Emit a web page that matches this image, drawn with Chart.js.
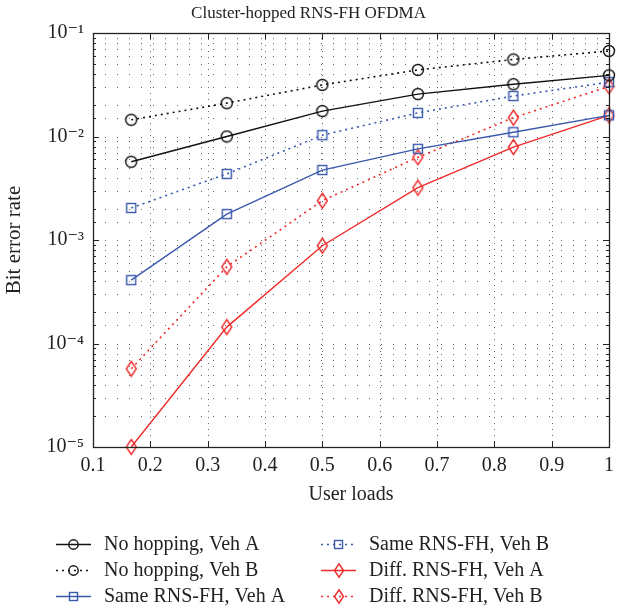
<!DOCTYPE html>
<html><head><meta charset="utf-8">
<script src="https://cdn.jsdelivr.net/npm/chart.js@4.4.1/dist/chart.umd.min.js"></script>
<style>html,body{margin:0;padding:0;background:#fff}#wrap{width:621px;height:611px}</style>
</head><body><div id="wrap"><canvas id="c" width="621" height="611"></canvas></div>
<script>
// ---- data ----
const chartTitle = 'Cluster-hopped RNS-FH OFDMA';
const xAxisTitle = 'User loads';
const yAxisTitle = 'Bit error rate';
const userLoads = [0.1667, 0.3333, 0.5, 0.6667, 0.8333, 1.0];
const noHoppingVehA = [5.7e-3, 1.0e-2, 1.76e-2, 2.57e-2, 3.2e-2, 3.9e-2];
const noHoppingVehB = [1.45e-2, 2.1e-2, 3.15e-2, 4.4e-2, 5.55e-2, 6.7e-2];
const sameRnsVehA = [4.1e-4, 1.78e-3, 4.74e-3, 7.6e-3, 1.1e-2, 1.6e-2];
const sameRnsVehB = [2.04e-3, 4.35e-3, 1.03e-2, 1.69e-2, 2.46e-2, 3.35e-2];
const diffRnsVehA = [1.0e-5, 1.44e-4, 8.8e-4, 3.2e-3, 7.9e-3, 1.6e-2];
const diffRnsVehB = [5.7e-5, 5.5e-4, 2.4e-3, 6.3e-3, 1.52e-2, 3.05e-2];
const seriesNames = ['No hopping, Veh A', 'No hopping, Veh B', 'Same RNS-FH, Veh A',
                     'Same RNS-FH, Veh B', 'Diff. RNS-FH, Veh A', 'Diff. RNS-FH, Veh B'];
const xTickLabels = ['0.1','0.2','0.3','0.4','0.5','0.6','0.7','0.8','0.9','1'];
const yTickLabels = ['10\u207B\u2075','10\u207B\u2074','10\u207B\u00B3','10\u207B\u00B2','10\u207B\u00B9'];
const yExponents = [-5, -4, -3, -2, -1];

// ---- styles ----
const FONT = "'Liberation Serif', 'DejaVu Serif', serif";
const BLACK = '#111111', BLUE = '#3a59ad', RED = '#ee2a2a';

function markerCanvas(kind, color, scale) {
  const c = document.createElement('canvas');
  const g = c.getContext('2d');
  if (kind === 'circle') {
    const r = 5.5 * scale;
    c.width = Math.ceil(2 * r + 3); c.height = c.width;
    g.strokeStyle = color; g.lineWidth = 1.4;
    g.beginPath(); g.arc(c.width / 2, c.height / 2, r, 0, Math.PI * 2); g.stroke();
  } else if (kind === 'square') {
    const s = Math.round(9 * scale);
    c.width = s + 3; c.height = s + 3;
    g.strokeStyle = color; g.lineWidth = 1.4;
    g.strokeRect(1.5, 1.5, s, s);
  } else {
    const w = 10 * scale, h = 15 * scale;
    c.width = Math.ceil(w + 3); c.height = Math.ceil(h + 3);
    const cx = c.width / 2, cy = c.height / 2;
    g.strokeStyle = color; g.lineWidth = 1.4;
    g.beginPath();
    g.moveTo(cx, cy - h / 2); g.lineTo(cx + w / 2, cy); g.lineTo(cx, cy + h / 2); g.lineTo(cx - w / 2, cy);
    g.closePath(); g.stroke();
  }
  return c;
}

const DOTTED = [2, 4];
function makeSet(label, values, color, kind, dotted) {
  return {
    label: label,
    data: userLoads.map((x, i) => ({ x: x, y: values[i] })),
    borderColor: color,
    backgroundColor: color,
    borderWidth: dotted ? 1.6 : 1.4,
    borderDash: dotted ? DOTTED : [],
    pointStyle: markerCanvas(kind, color, 1),
    legendMarker: markerCanvas(kind, color, kind === 'diamond' ? 0.9 : 0.85),
    pointRadius: 7,
    pointHoverRadius: 7,
    tension: 0,
    fill: false,
    clip: false
  };
}

const datasets = [
  makeSet(seriesNames[0], noHoppingVehA, BLACK, 'circle', false),
  makeSet(seriesNames[1], noHoppingVehB, BLACK, 'circle', true),
  makeSet(seriesNames[2], sameRnsVehA, BLUE, 'square', false),
  makeSet(seriesNames[3], sameRnsVehB, BLUE, 'square', true),
  makeSet(seriesNames[4], diffRnsVehA, RED, 'diamond', false),
  makeSet(seriesNames[5], diffRnsVehB, RED, 'diamond', true)
];

function isDecade(v) {
  const e = Math.log10(v);
  return Math.abs(e - Math.round(e)) < 1e-6;
}

const frame = {
  id: 'frame',
  beforeDatasetsDraw(chart) {
    const { ctx, chartArea: a, scales: { x, y } } = chart;
    ctx.save();
    ctx.strokeStyle = 'rgba(0,0,0,0.6)';
    ctx.lineWidth = 1;
    ctx.setLineDash([1, 5]);
    x.ticks.forEach(t => {
      const px = Math.round(x.getPixelForValue(t.value)) + 0.5;
      if (px <= a.left + 2 || px >= a.right - 2) return;
      ctx.beginPath(); ctx.moveTo(px, a.top); ctx.lineTo(px, a.bottom); ctx.stroke();
    });
    ctx.setLineDash([1, 11]);
    y.ticks.forEach(t => {
      const py = Math.round(y.getPixelForValue(t.value)) + 0.5;
      if (py <= a.top + 2 || py >= a.bottom - 2) return;
      ctx.beginPath(); ctx.moveTo(a.left, py); ctx.lineTo(a.right, py); ctx.stroke();
    });
    ctx.restore();
  },
  afterDatasetsDraw(chart) {
    const { ctx, chartArea: a, scales: { x, y } } = chart;
    ctx.save();
    ctx.setLineDash([]);
    ctx.strokeStyle = '#222';
    ctx.lineWidth = 1.3;
    ctx.strokeRect(Math.round(a.left) + 0.5, Math.round(a.top) + 0.5,
                   Math.round(a.right - a.left), Math.round(a.bottom - a.top));
    ctx.lineWidth = 1;
    x.ticks.forEach(t => {
      const px = Math.round(x.getPixelForValue(t.value)) + 0.5;
      ctx.beginPath();
      ctx.moveTo(px, a.bottom); ctx.lineTo(px, a.bottom - 6);
      ctx.moveTo(px, a.top); ctx.lineTo(px, a.top + 6);
      ctx.stroke();
    });
    y.ticks.forEach(t => {
      const py = Math.round(y.getPixelForValue(t.value)) + 0.5;
      const len = isDecade(t.value) ? 6 : 3;
      ctx.beginPath();
      ctx.moveTo(a.left, py); ctx.lineTo(a.left + len, py);
      ctx.moveTo(a.right, py); ctx.lineTo(a.right - len, py);
      ctx.stroke();
    });
    ctx.restore();
  },
  afterDraw(chart) {
    const { ctx } = chart;
    const colX = [56, 321];
    const rowY = [544, 570, 596];
    ctx.save();
    ctx.font = "20px " + FONT;
    ctx.textBaseline = 'middle';
    ctx.textAlign = 'left';
    chart.data.datasets.forEach((ds, i) => {
      const cx = colX[Math.floor(i / 3)];
      const cy = rowY[i % 3];
      ctx.strokeStyle = ds.borderColor;
      ctx.lineWidth = ds.borderWidth;
      ctx.setLineDash(ds.borderDash);
      ctx.beginPath(); ctx.moveTo(cx, cy + 0.5); ctx.lineTo(cx + 35, cy + 0.5); ctx.stroke();
      ctx.setLineDash([]);
      const m = ds.legendMarker;
      ctx.drawImage(m, Math.round(cx + 17.5 - m.width / 2), Math.round(cy - m.height / 2 + 0.5));
      ctx.fillStyle = '#222';
      ctx.fillText(ds.label, cx + 48, cy + 1);
    });
    ctx.restore();
  }
};

new Chart(document.getElementById('c'), {
  type: 'line',
  data: { datasets: datasets },
  plugins: [frame],
  options: {
    responsive: false,
    animation: false,
    devicePixelRatio: 1,
    layout: { padding: { left: 0, right: 4, top: 0, bottom: 95 } },
    plugins: {
      legend: { display: false },
      tooltip: { enabled: false },
      title: {
        display: true,
        text: chartTitle,
        color: '#222',
        font: { family: FONT, size: 17, weight: 'normal' },
        padding: { top: 3, bottom: 9.6 }
      }
    },
    scales: {
      x: {
        type: 'linear',
        min: 0.1, max: 1.0,
        afterFit(s) { s.height = 69; },
        afterBuildTicks(s) { s.ticks = xTickLabels.map(l => ({ value: parseFloat(l) })); },
        ticks: {
          autoSkip: false,
          maxRotation: 0,
          padding: 7,
          color: '#222',
          font: { family: FONT, size: 20 },
          callback(v) {
            const idx = xTickLabels.findIndex(l => Math.abs(parseFloat(l) - v) < 1e-6);
            return idx >= 0 ? xTickLabels[idx] : '';
          }
        },
        grid: { display: false, drawTicks: false },
        border: { display: false },
        title: {
          display: true, text: xAxisTitle, color: '#222',
          font: { family: FONT, size: 20 },
          padding: { top: 0, bottom: 9 }
        }
      },
      y: {
        type: 'logarithmic',
        min: 1e-5, max: 1e-1,
        afterFit(s) { s.width = 93; },
        ticks: {
          autoSkip: false,
          padding: 9,
          color: '#222',
          font: { family: FONT, size: 20 },
          callback(v) {
            if (!isDecade(v)) return '';
            const e = Math.round(Math.log10(v));
            const idx = yExponents.indexOf(e);
            return idx >= 0 ? yTickLabels[idx] : '';
          }
        },
        grid: { display: false, drawTicks: false },
        border: { display: false },
        title: {
          display: true, text: yAxisTitle, color: '#222',
          font: { family: FONT, size: 21 },
          padding: { top: 1.5, bottom: 0 }
        }
      }
    }
  }
});
</script>
</body></html>
